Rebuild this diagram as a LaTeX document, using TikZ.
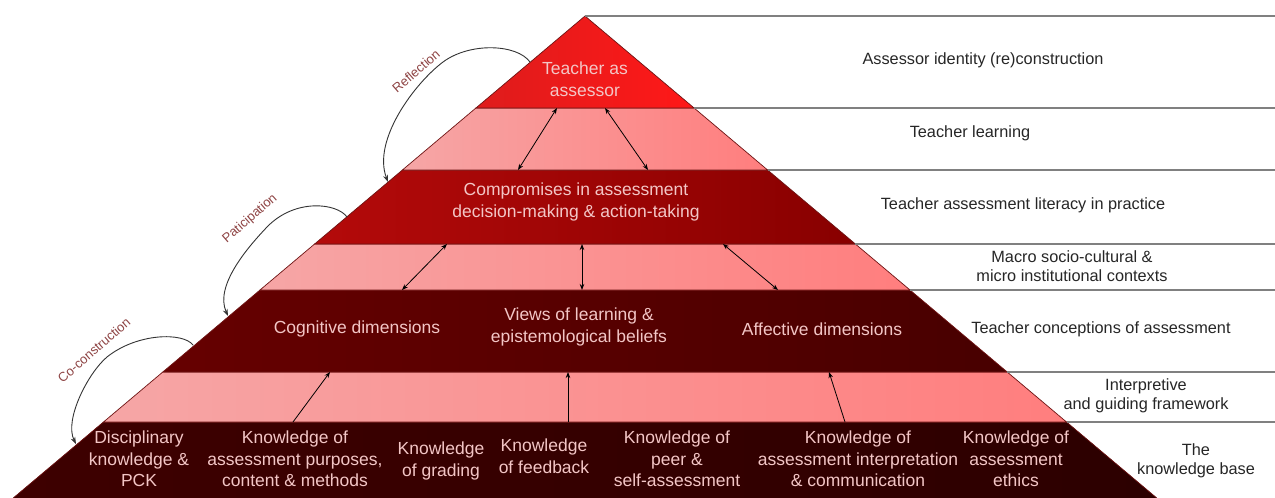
\documentclass[tikz,border=0pt]{standalone}
\usepackage{fontspec}
\setmainfont{Liberation Sans}
\usetikzlibrary{arrows.meta}
\definecolor{topL}{RGB}{222,28,28}
\definecolor{topR}{RGB}{255,24,24}
\definecolor{pinkL}{RGB}{246,166,166}
\definecolor{pinkR}{RGB}{255,126,126}
\definecolor{midL}{RGB}{180,10,10}
\definecolor{midR}{RGB}{136,0,0}
\definecolor{darkL}{RGB}{102,0,0}
\definecolor{darkR}{RGB}{72,0,0}
\definecolor{baseL}{RGB}{62,0,0}
\definecolor{baseR}{RGB}{44,0,0}
\definecolor{bandedge}{RGB}{110,20,20}
\definecolor{ptxt}{RGB}{243,198,198}
\definecolor{lbl}{RGB}{142,68,68}
\definecolor{rule}{RGB}{128,128,128}
\begin{document}
\begin{tikzpicture}[x=1pt,y=-1pt,
  band/.style={draw=bandedge,line width=0.7pt},
  ptext/.style={text=ptxt,align=center,inner sep=0pt,font=\fontsize{17.5}{21.5}\selectfont},
  rtext/.style={text=black!85,align=center,inner sep=0pt,font=\fontsize{16.3}{19.5}\selectfont},
  clabel/.style={text=lbl,inner sep=0pt,rotate=41,font=\fontsize{13}{15}\selectfont},
  dbl/.style={{Stealth[length=6pt,width=4.5pt]}-{Stealth[length=6pt,width=4.5pt]},line width=0.8pt,black},
  upar/.style={-{Stealth[length=6pt,width=4.5pt]},line width=0.8pt,black},
  curv/.style={-{Stealth[length=7pt,width=5pt]},line width=0.9pt,black!80},
  hrule/.style={draw=rule,line width=1.6pt}]
\useasboundingbox (0,0) rectangle (1275,498);
% bands
\fill[left color=baseL,right color=baseR] (103.5,422) -- (1066.5,422) -- (1156.7,498) -- (13.3,498) -- cycle;
\draw[band] (13.3,498) -- (103.5,422) -- (1066.5,422) -- (1156.7,498);
\shade[left color=pinkL,right color=pinkR] (162.8,372) -- (1007.2,372) -- (1066.5,422) -- (103.5,422) -- cycle;
\draw[band] (162.8,372) -- (1007.2,372) -- (1066.5,422) -- (103.5,422) -- cycle;
\shade[left color=darkL,right color=darkR] (260,290) -- (910,290) -- (1007.2,372) -- (162.8,372) -- cycle;
\draw[band] (260,290) -- (910,290) -- (1007.2,372) -- (162.8,372) -- cycle;
\shade[left color=pinkL,right color=pinkR] (314.6,244) -- (855.4,244) -- (910,290) -- (260,290) -- cycle;
\draw[band] (314.6,244) -- (855.4,244) -- (910,290) -- (260,290) -- cycle;
\shade[left color=midL,right color=midR] (402.4,170) -- (767.6,170) -- (855.4,244) -- (314.6,244) -- cycle;
\draw[band] (402.4,170) -- (767.6,170) -- (855.4,244) -- (314.6,244) -- cycle;
\shade[left color=pinkL,right color=pinkR] (475.9,108) -- (694.1,108) -- (767.6,170) -- (402.4,170) -- cycle;
\draw[band] (475.9,108) -- (694.1,108) -- (767.6,170) -- (402.4,170) -- cycle;
\shade[left color=topL,right color=topR] (585,16) -- (694.1,108) -- (475.9,108) -- cycle;
\draw[band] (585,16) -- (694.1,108) -- (475.9,108) -- cycle;
% right rules
\draw[hrule] (585,16) -- (1275,16);
\draw[hrule] (694.1,108) -- (1275,108);
\draw[hrule] (767.6,170) -- (1275,170);
\draw[hrule] (855.4,244) -- (1275,244);
\draw[hrule] (910,290) -- (1275,290);
\draw[hrule] (1007.2,372) -- (1275,372);
\draw[hrule] (1066.5,422) -- (1275,422);
% pyramid texts
\node[ptext] (tas) at (585,79) {Teacher as\\assessor};
\node[ptext] (comp) at (576,202) {Compromises in assessment\\decision-making \& action-taking};
\node[ptext] (cog) at (357,329) {Cognitive dimensions};
\node[ptext] (views) at (579,327) {Views of learning \&\\epistemological beliefs};
\node[ptext] (aff) at (822,329) {Affective dimensions};
\node[ptext] (k1) at (139,459) {Disciplinary\\knowledge \&\\PCK};
\node[ptext] (k2) at (295,459) {Knowledge of\\assessment purposes,\\content \& methods};
\node[ptext] (k3) at (441,461) {Knowledge\\of grading};
\node[ptext] (k4) at (544,456) {Knowledge\\of feedback};
\node[ptext] (k5) at (677,459) {Knowledge of\\peer \&\\self-assessment};
\node[ptext] (k6) at (858,459) {Knowledge of\\assessment interpretation\\\& communication};
\node[ptext] (k7) at (1016,459) {Knowledge of\\assessment\\ethics};
% right labels
\node[rtext] (r1) at (983,60) {Assessor identity (re)construction};
\node[rtext] (r2) at (970,133) {Teacher learning};
\node[rtext] (r3) at (1023,205) {Teacher assessment literacy in practice};
\node[rtext] (r4) at (1072,266) {Macro socio-cultural \&\\micro institutional contexts};
\node[rtext] (r5) at (1101,329) {Teacher conceptions of assessment};
\node[rtext] (r6) at (1146,396) {Interpretive\\and guiding framework};
\node[rtext] (r7) at (1196,461) {The\\knowledge base};
% internal arrows
\coordinate (a1s) at (557,108); \coordinate (a1e) at (518,170);
\coordinate (a2s) at (605,108); \coordinate (a2e) at (648,170);
\coordinate (b1s) at (447,244); \coordinate (b1e) at (402,290);
\coordinate (b2s) at (582,244); \coordinate (b2e) at (582,290);
\coordinate (b3s) at (723,244); \coordinate (b3e) at (778,290);
\coordinate (c1s) at (293,422); \coordinate (c1e) at (330,372);
\coordinate (c2s) at (568,422); \coordinate (c2e) at (568,372);
\coordinate (c3s) at (845,422); \coordinate (c3e) at (829,372);
\draw[dbl] (a1s) -- (a1e);
\draw[dbl] (a2s) -- (a2e);
\draw[dbl] (b1s) -- (b1e);
\draw[dbl] (b2s) -- (b2e);
\draw[dbl] (b3s) -- (b3e);
\draw[upar] (c1s) -- (c1e);
\draw[upar] (c2s) -- (c2e);
\draw[upar] (c3s) -- (c3e);
% curved arrows
\coordinate (rs) at (530,62); \coordinate (re) at (388,182);
\coordinate (ps) at (347,217); \coordinate (pe) at (228,316);
\coordinate (cs) at (193,345); \coordinate (ce) at (76,444);
\draw[curv] (rs) .. controls (517,44) and (470,42) .. (443,62) .. controls (415,83) and (372,140) .. (re);
\draw[curv] (ps) .. controls (337,203) and (295,198) .. (267,227) .. controls (250,245) and (214,285) .. (pe);
\draw[curv] (cs) .. controls (183,332) and (137,333) .. (107,357) .. controls (88,373) and (64,420) .. (ce);
\node[clabel] (lr) at (416,71) {Reflection};
\node[clabel] (lp) at (250,219) {Paticipation};
\node[clabel] (lc) at (94,350) {Co-construction};
\end{tikzpicture}
\end{document}
